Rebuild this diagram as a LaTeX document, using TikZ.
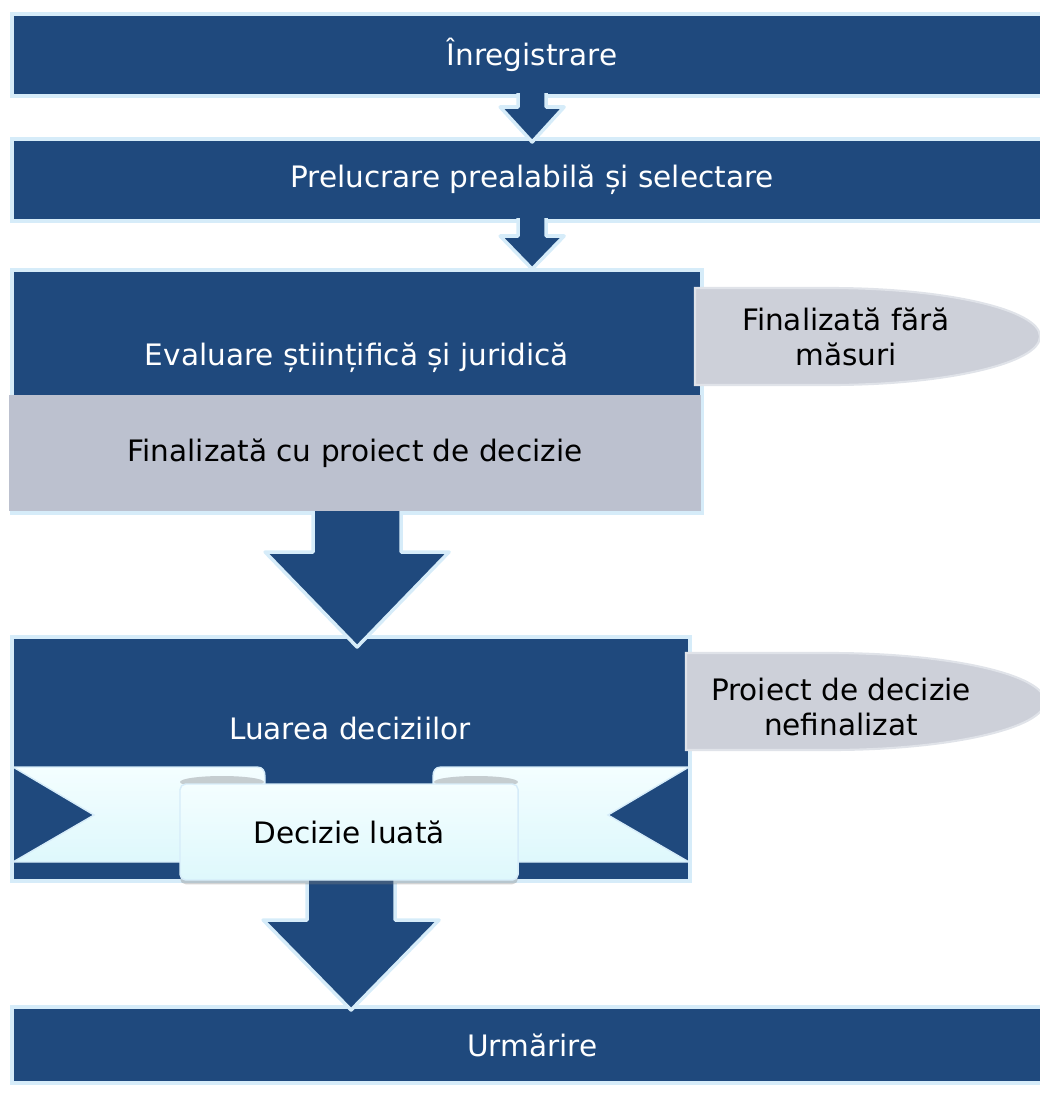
\documentclass[tikz,border=0pt]{standalone}
\usepackage{fontspec}
\setmainfont{DejaVu Sans}
\usetikzlibrary{calc}
\usetikzlibrary{shadows}

\definecolor{boxblue}{RGB}{31,73,125}
\definecolor{boxedge}{RGB}{214,236,249}
\definecolor{resgrey}{RGB}{188,193,207}
\definecolor{tabgrey}{RGB}{205,208,217}
\definecolor{tabedge}{RGB}{224,227,233}
\definecolor{ribbontop}{RGB}{244,254,255}
\definecolor{ribbonfill}{RGB}{222,248,252}
\definecolor{curlgrey}{RGB}{197,205,208}

\tikzset{
  box/.style={inner sep=0pt, outer sep=0pt, anchor=north west, draw=boxedge, line width=3pt, fill=boxblue, text=white, font=\fontsize{21}{25}\selectfont},
  lbl/.style={inner sep=0pt, outer sep=0pt, align=center, font=\fontsize{21}{25}\selectfont},
  flow/.style={fill=boxblue, draw=boxedge, line width=2.5pt, line join=round},
  tab/.style={fill=tabgrey, draw=tabedge, line width=1.5pt},
  ribbon/.style={top color=ribbontop, bottom color=ribbonfill, draw=boxedge, line width=1pt},
}

% block arrow: from, to, half shaft, half head, head length, tip offset
\newcommand{\flowarrow}[6]{%
  \coordinate (tip) at ($(#1.south |- #2.north)+(0,#6)$);
  \draw[flow] ($(#1.south)+(-#3,-3)$) -- ($(tip)+(-#3,-#5)$) -- ($(tip)+(-#4,-#5)$) -- (tip)
    -- ($(tip)+(#4,-#5)$) -- ($(tip)+(#3,-#5)$) -- ($(#1.south)+(#3,-3)$);
}

\begin{document}
\begin{tikzpicture}[x=0.025cm, y=-0.025cm]

\useasboundingbox (0,0) rectangle (1040,1093);
\clip (0,0) rectangle (1040,1093);

\node[box, minimum width=26cm, minimum height=2.05cm] (reg) at (12,14) {Înregistrare};
\node[box, minimum width=26cm, minimum height=2.05cm] (pre) at (12,139) {Prelucrare prealabilă și selectare};
\node[box, minimum width=17.25cm, minimum height=6.075cm] (eval) at (12,270) {};
\node[box, minimum width=16.95cm, minimum height=6.1cm] (dec) at (12,637) {};
\node[box, minimum width=26cm, minimum height=1.9cm] (urm) at (12,1007) {Urmărire};

\flowarrow{reg}{pre}{14}{32}{35}{3}
\flowarrow{pre}{eval}{14}{32}{33}{-1}
\flowarrow{eval}{dec}{44}{92}{95}{10}
\flowarrow{dec}{urm}{44}{88}{90}{3}

\node[lbl, anchor=north west, fill=resgrey, minimum width=17.3cm, minimum height=2.9cm] (evalres) at (9,395) {Finalizată cu proiect de decizie};
\node[lbl, text=white] (evaltxt) at (357,358) {Evaluare științifică și juridică};
\node[lbl, text=white] (dectxt) at (350,728) {Luarea deciziilor};

% ribbon
\draw[ribbon] (13,767) -- (257,767) .. controls (263,767) and (265,771) .. (265,777) -- (265,862) -- (13,862) -- (94,815) -- cycle;
\draw[ribbon] (689,767) -- (441,767) .. controls (435,767) and (433,771) .. (433,777) -- (433,862) -- (689,862) -- (608,815) -- cycle;
\fill[curlgrey] (222,782) ellipse [x radius=42, y radius=6];
\fill[curlgrey] (476,782) ellipse [x radius=42, y radius=6];
\node[lbl, ribbon, anchor=north west, rounded corners=4pt, minimum width=8.45cm, minimum height=2.4cm,
  drop shadow={shadow xshift=0pt, shadow yshift=-3pt, opacity=0.35}] (taken) at (180,784) {Decizie luată};

% side tabs
\draw[tab] (695,288) -- (830,288) .. controls (946,288) and (1040,309.7) .. (1040,336.5) .. controls (1040,363.3) and (946,385) .. (830,385) -- (695,385) -- cycle;
\node[lbl] (tabdone) at (846,337) {Finalizată fără\\măsuri};
\draw[tab] (686,653) -- (830,653) .. controls (949,653) and (1045,674.7) .. (1045,701.5) .. controls (1045,728.3) and (949,750) .. (830,750) -- (686,750) -- cycle;
\node[lbl] (tabopen) at (841,707) {Proiect de decizie\\nefinalizat};

\end{tikzpicture}
\end{document}
